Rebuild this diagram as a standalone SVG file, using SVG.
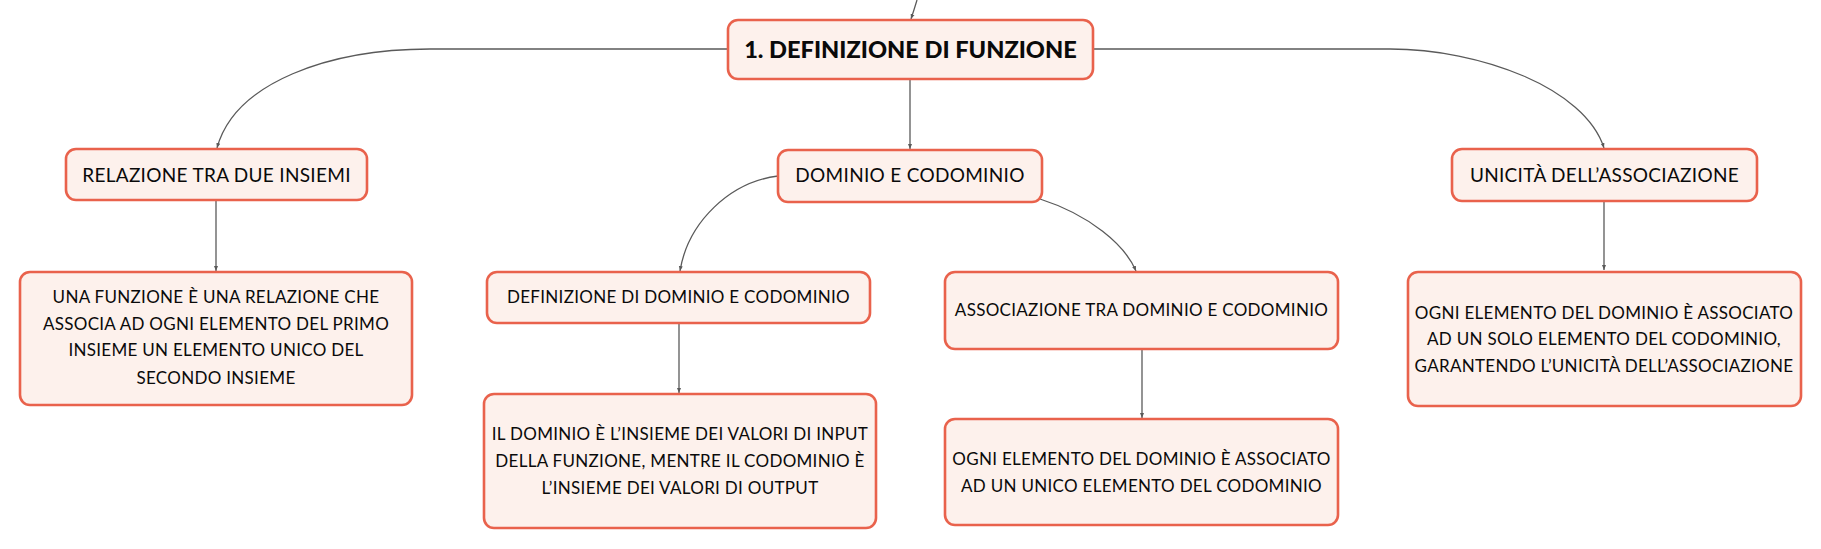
<svg xmlns="http://www.w3.org/2000/svg" width="1821" height="549" viewBox="0 0 1821 549">
<style>
.box{fill:#fdf1ec;stroke:#e9624c;stroke-width:2.6}
.t{font-family:Lato,"Open Sans","Liberation Sans",sans-serif;fill:#0a0a0a;text-anchor:middle}
.l2{font-size:19px;letter-spacing:0.3px}
.l3{font-size:17px;letter-spacing:0.3px}
.title{font-size:23.6px;font-weight:900}
.c{fill:none;stroke:#5a5a5a;stroke-width:1.3}
</style>
<defs>
<marker id="ah" markerUnits="userSpaceOnUse" markerWidth="6" markerHeight="6" viewBox="0 0 6 6" refX="5" refY="3" orient="auto">
<path d="M0,1 L5,3 L0,5 z" fill="#5a5a5a"/>
</marker>
</defs>
<rect width="1821" height="549" fill="#ffffff"/>
<g id="connectors">
<path class="c" d="M917,0 Q914,10 911,19" marker-end="url(#ah)"/>
<path class="c" d="M728,49 L430,49 C330,49 235,82 217,148" marker-end="url(#ah)"/>
<path class="c" d="M1093,49 L1390,49 C1480,49 1585,88 1604,148" marker-end="url(#ah)"/>
<path class="c" d="M910,79 L910,149" marker-end="url(#ah)"/>
<path class="c" d="M778,176 C730,182 688,222 680,271" marker-end="url(#ah)"/>
<path class="c" d="M1040,199 C1090,215 1125,245 1136,271" marker-end="url(#ah)"/>
<path class="c" d="M216,200 L216,271" marker-end="url(#ah)"/>
<path class="c" d="M679,323 L679,393" marker-end="url(#ah)"/>
<path class="c" d="M1142,349 L1142,418" marker-end="url(#ah)"/>
<path class="c" d="M1604,201 L1604,270" marker-end="url(#ah)"/>
</g>
<g id="n-title">
<rect class="box" x="728" y="20" width="365" height="59" rx="10" stroke-width="3"/>
<text class="t title" x="910.5" y="58">1. DEFINIZIONE DI FUNZIONE</text>
</g>
<g id="n-relazione">
<rect class="box" x="66" y="149" width="301" height="51" rx="10"/>
<text class="t l2" x="216.5" y="181.5">RELAZIONE TRA DUE INSIEMI</text>
</g>
<g id="n-dominio">
<rect class="box" x="778" y="150" width="264" height="52" rx="10"/>
<text class="t l2" x="910" y="182">DOMINIO E CODOMINIO</text>
</g>
<g id="n-unicita">
<rect class="box" x="1452" y="149" width="305" height="52" rx="10"/>
<text class="t l2" x="1604.5" y="181.5">UNICITÀ DELL’ASSOCIAZIONE</text>
</g>
<g id="n-funzione">
<rect class="box" x="20" y="272" width="392" height="133" rx="10"/>
<text class="t l3" x="216" y="303">UNA FUNZIONE È UNA RELAZIONE CHE</text>
<text class="t l3" x="216" y="329.5">ASSOCIA AD OGNI ELEMENTO DEL PRIMO</text>
<text class="t l3" x="216" y="356.3">INSIEME UN ELEMENTO UNICO DEL</text>
<text class="t l3" x="216" y="383.5">SECONDO INSIEME</text>
</g>
<g id="n-definizione">
<rect class="box" x="487" y="272" width="383" height="51" rx="10"/>
<text class="t l3" x="678.5" y="303">DEFINIZIONE DI DOMINIO E CODOMINIO</text>
</g>
<g id="n-ildominio">
<rect class="box" x="484" y="394" width="392" height="134" rx="10"/>
<text class="t l3" x="680" y="439.5">IL DOMINIO È L’INSIEME DEI VALORI DI INPUT</text>
<text class="t l3" x="680" y="467">DELLA FUNZIONE, MENTRE IL CODOMINIO È</text>
<text class="t l3" x="680" y="493.5">L’INSIEME DEI VALORI DI OUTPUT</text>
</g>
<g id="n-associazione">
<rect class="box" x="945" y="272" width="393" height="77" rx="10"/>
<text class="t l3" x="1141.5" y="315.5">ASSOCIAZIONE TRA DOMINIO E CODOMINIO</text>
</g>
<g id="n-ogni-mid">
<rect class="box" x="945" y="419" width="393" height="106" rx="10"/>
<text class="t l3" x="1141.5" y="464.5">OGNI ELEMENTO DEL DOMINIO È ASSOCIATO</text>
<text class="t l3" x="1141.5" y="491.5">AD UN UNICO ELEMENTO DEL CODOMINIO</text>
</g>
<g id="n-ogni-right">
<rect class="box" x="1408" y="272" width="393" height="134" rx="10"/>
<text class="t l3" x="1604" y="318.5">OGNI ELEMENTO DEL DOMINIO È ASSOCIATO</text>
<text class="t l3" x="1604" y="345">AD UN SOLO ELEMENTO DEL CODOMINIO,</text>
<text class="t l3" x="1604" y="371.5">GARANTENDO L’UNICITÀ DELL’ASSOCIAZIONE</text>
</g>
</svg>
